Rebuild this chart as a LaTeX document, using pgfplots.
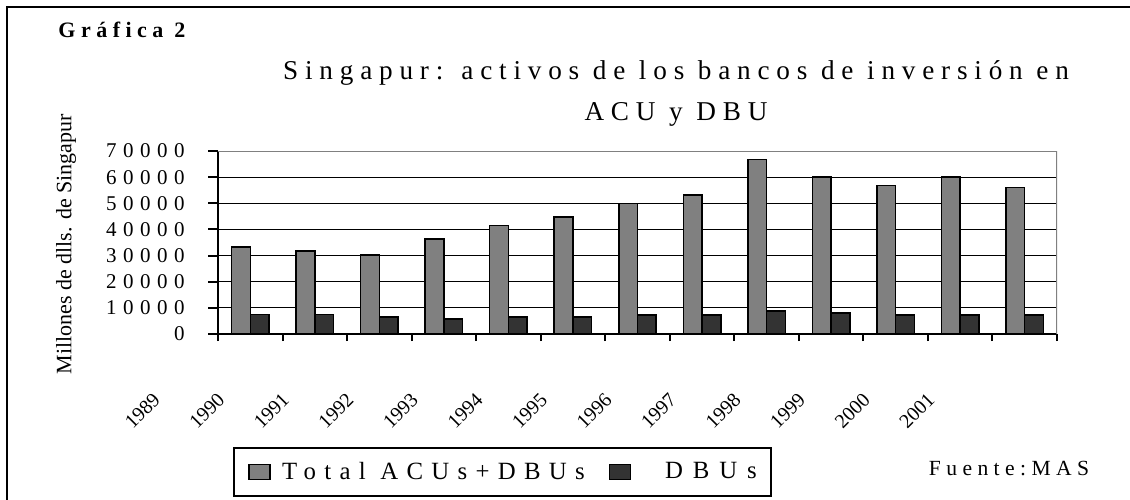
\documentclass[border=0pt]{standalone}
\usepackage{fontspec}
\setmainfont{Liberation Serif}
\newfontfamily\lsA[LetterSpace=31]{Liberation Serif}
\newfontfamily\lsB[LetterSpace=25]{Liberation Serif}
\newfontfamily\lsL[LetterSpace=33.5]{Liberation Serif}
\newfontfamily\lsC[LetterSpace=40]{Liberation Serif}
\newfontfamily\lsT[LetterSpace=25]{Liberation Serif}
\newfontfamily\lsBold[LetterSpace=25]{Liberation Serif Bold}
\usepackage{pgfplots}
\pgfplotsset{compat=1.18}
\definecolor{barA}{HTML}{808080}
\definecolor{barB}{HTML}{333333}

\begin{document}
\begin{tikzpicture}
\path[use as bounding box] (0,0) rectangle (565pt,249.5pt);
% outer frame (only top and left edges fall inside the picture)
\draw[line width=1pt] (3.6pt,-2pt) -- (3.6pt,246.1pt) -- (570pt,246.1pt);
\node[anchor=base west, inner sep=0pt, font=\fontsize{11}{13}\lsBold] at (29pt,230.8pt) {Gráfica 2};
\node[anchor=base, inner sep=0pt, font=\fontsize{13.6}{16}\lsT] at (338pt,209.5pt) {Singapur: activos de los bancos de inversión en};
\node[anchor=base, inner sep=0pt, font=\fontsize{13.6}{16}\lsT] at (338pt,189.5pt) {ACU y DBU};
\node[anchor=base west, inner sep=0pt, font=\fontsize{10.8}{13}\lsB] at (464.25pt,12pt) {Fuente:MAS};

\begin{axis}[
  at={(109pt,82.5pt)}, anchor=south west,
  scale only axis, width=419.5pt, height=91.5pt,
  xmin=0, xmax=13, ymin=0, ymax=70000,
  ybar=0pt, bar width=0.29,
  axis x line*=bottom, axis y line*=left,
  axis line style={line width=1pt, -},
  tick align=outside, major tick length=5pt,
  tick style={black, line width=1pt},
  xtick style={/pgfplots/major tick length=3.5pt},
  xtick={0,...,13},
  xticklabels={1989,1990,1991,1992,1993,1994,1995,1996,1997,1998,1999,2000,2001,{}},
  ytick={0,10000,...,70000},
  scaled y ticks=false,
  yticklabels={0,10000,20000,30000,40000,50000,60000,70000},
  ymajorgrids, grid style={black, line width=0.5pt},
  % the shifts below act in the rotated frame of the label
  xticklabel style={font=\fontsize{10}{11}\selectfont, inner sep=0pt, xshift=-30.6pt, yshift=-26.3pt, rotate=45, anchor=east},
  yticklabel style={font=\fontsize{10.5}{12}\lsA, inner sep=0pt, xshift=-11.5pt},
  ylabel={Millones de dlls. de Singapur},
  every axis y label/.style={at={(axis description cs:-0.181,0.49)}, rotate=90, anchor=center, font=\fontsize{11}{13}\selectfont},
  every axis plot/.append style={draw=black, line width=0.75pt},
  legend columns=2,
  legend image code/.code={\draw[#1, line width=0.75pt] (0pt,-3.75pt) rectangle (10.5pt,3.75pt);},
  legend style={at={(0.0179,-0.6175)}, anchor=north west, draw=black, line width=1pt,
    font=\fontsize{12.4}{14}\lsL, inner xsep=7pt, inner ysep=7pt,
    nodes={inner sep=0pt}},
]
\addplot[fill=barA] coordinates {
  (0.5,33200) (1.5,31700) (2.5,30200) (3.5,36300) (4.5,41600) (5.5,44700) (6.5,50000)
  (7.5,53100) (8.5,66800) (9.5,60000) (10.5,56900) (11.5,60000) (12.5,56100)
};
\addplot[fill=barB] coordinates {
  (0.5,7400) (1.5,7400) (2.5,6500) (3.5,5700) (4.5,6500) (5.5,6500) (6.5,7300)
  (7.5,7300) (8.5,8800) (9.5,8000) (10.5,7300) (11.5,7300) (12.5,7300)
};
\legend{\hspace*{5.75pt}Total ACUs+DBUs\hspace*{12pt},\hspace*{16.85pt}{\lsC DBUs}}
\draw[barA, line width=1pt] (rel axis cs:0,1) -- (rel axis cs:1,1) -- (rel axis cs:1,0);
\end{axis}
\end{tikzpicture}
\end{document}
